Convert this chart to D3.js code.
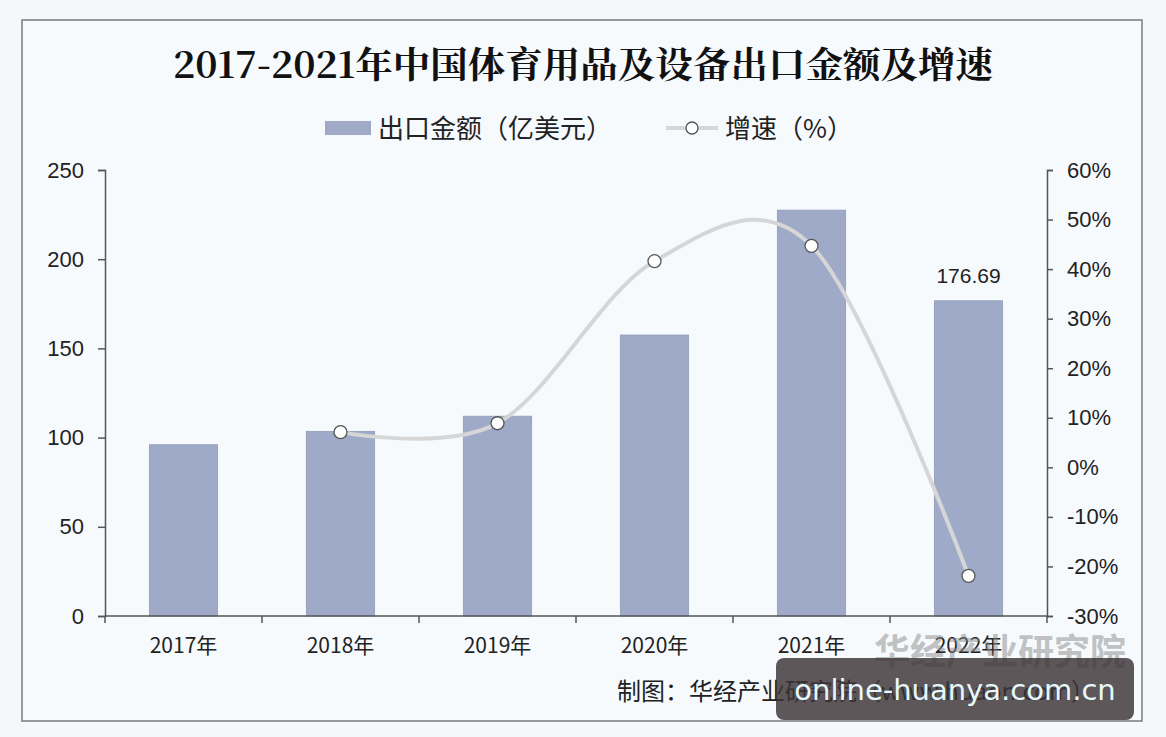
<!DOCTYPE html>
<html>
<head>
<meta charset="utf-8">
<script src="https://cdn.jsdelivr.net/npm/d3@7"></script>
<style>
  html, body { margin: 0; padding: 0; background: #f4f8fb; }
  svg { display: block; font-family: "Liberation Sans", "Noto Sans CJK SC", sans-serif; }
</style>
</head>
<body>
<svg id="chart" width="1166" height="737"></svg>
<script>
"use strict";

// data
const years = ["2017年", "2018年", "2019年", "2020年", "2021年", "2022年"];
const exportValue = [96, 103.5, 112, 157.5, 227.5, 176.69];
const growthYears = ["2018年", "2019年", "2020年", "2021年", "2022年"];
const growthRate = [7.1, 8.9, 41.6, 44.7, -21.9];
const leftTicks = [0, 50, 100, 150, 200, 250];
const rightTicks = [-30, -20, -10, 0, 10, 20, 30, 40, 50, 60];

const svg = d3.select("#chart");
const cjk = '"Noto Sans CJK SC", sans-serif';

// frame
svg.append("rect")
    .attr("x", 22).attr("y", 20)
    .attr("width", 1120).attr("height", 701)
    .attr("fill", "#f7fafd")
    .attr("stroke", "#7a7a7a")
    .attr("stroke-width", 1.5);

// title
svg.append("text")
    .attr("x", 583).attr("y", 78)
    .attr("text-anchor", "middle")
    .attr("textLength", 820)
    .attr("lengthAdjust", "spacingAndGlyphs")
    .style("font-family", '"Noto Serif CJK SC", "Noto Sans CJK SC", serif')
    .style("font-size", "36px")
    .style("font-weight", "bold")
    .attr("fill", "#111")
    .text("2017-2021年中国体育用品及设备出口金额及增速");

const margin = {left: 105, right: 1047, top: 170, bottom: 616};

let scaleX = d3.scaleBand()
    .domain(years)
    .range([margin.left, margin.right])
    .paddingInner(0.565)
    .paddingOuter(0.2825);
let scaleY = d3.scaleLinear().domain([0, 250]).range([margin.bottom, margin.top]);
let scaleY2 = d3.scaleLinear().domain([-30, 60]).range([margin.bottom, margin.top]);

// bars
svg.append("g")
    .selectAll("rect")
    .data(exportValue)
    .join("rect")
    .attr("x", (d, i) => scaleX(years[i]))
    .attr("y", d => scaleY(d))
    .attr("width", scaleX.bandwidth())
    .attr("height", d => scaleY(0) - scaleY(d))
    .attr("fill", "#9eaac8")
    .attr("stroke", "#8f9bba")
    .attr("stroke-width", 0.8);

// data label on last bar
svg.append("text")
    .attr("x", scaleX(years[5]) + scaleX.bandwidth() / 2)
    .attr("y", scaleY(exportValue[5]) - 18)
    .attr("text-anchor", "middle")
    .style("font-size", "21px")
    .attr("fill", "#222")
    .text("176.69");

// left axis
let leftAxis = svg.append("g")
    .attr("transform", `translate(${margin.left},0)`)
    .call(d3.axisLeft(scaleY).tickValues(leftTicks).tickSize(7).tickPadding(14));
// right axis
let rightAxis = svg.append("g")
    .attr("transform", `translate(${margin.right},0)`)
    .call(d3.axisRight(scaleY2).tickValues(rightTicks).tickSize(6).tickPadding(14)
        .tickFormat(d => d + "%"));
// bottom axis, ticks on band edges
let bandEdges = years.map(y => scaleX(y) - scaleX.step() * scaleX.paddingInner() / 2);
bandEdges[0] = margin.left;
bandEdges.push(margin.right);
let bottomAxis = svg.append("g")
    .attr("transform", `translate(0,${margin.bottom})`);
bottomAxis.append("line")
    .attr("x1", margin.left).attr("x2", margin.right)
    .attr("stroke", "#555").attr("stroke-width", 1.5);
bottomAxis.selectAll("line.tk")
    .data(bandEdges)
    .join("line")
    .attr("class", "tk")
    .attr("x1", d => d).attr("x2", d => d)
    .attr("y1", 0).attr("y2", 7)
    .attr("stroke", "#555").attr("stroke-width", 1.5);
bottomAxis.selectAll("text")
    .data(years)
    .join("text")
    .attr("x", d => scaleX(d) + scaleX.bandwidth() / 2)
    .attr("y", 37)
    .attr("text-anchor", "middle")
    .style("font-family", cjk)
    .style("font-size", "21px")
    .attr("fill", "#222")
    .text(d => d);

[leftAxis, rightAxis].forEach(function(ax) {
    ax.select(".domain").attr("stroke", "#555").attr("stroke-width", 1.5);
    ax.selectAll(".tick line").attr("stroke", "#555").attr("stroke-width", 1.5);
    ax.selectAll(".tick text")
        .style("font-size", "22px")
        .attr("fill", "#222");
});

// growth line (smoothed)
let lineGen = d3.line()
    .x((d, i) => scaleX(growthYears[i]) + scaleX.bandwidth() / 2)
    .y(d => scaleY2(d))
    .curve(d3.curveCardinal.tension(0));
svg.append("path")
    .datum(growthRate)
    .attr("d", lineGen)
    .attr("fill", "none")
    .attr("stroke", "#d6d6d6")
    .attr("stroke-width", 4);
svg.append("g")
    .selectAll("circle")
    .data(growthRate)
    .join("circle")
    .attr("cx", (d, i) => scaleX(growthYears[i]) + scaleX.bandwidth() / 2)
    .attr("cy", d => scaleY2(d))
    .attr("r", 6.5)
    .attr("fill", "#fff")
    .attr("stroke", "#555")
    .attr("stroke-width", 1.3);

// legend
let legend = svg.append("g").style("font-family", cjk).style("font-size", "26px");
legend.append("rect")
    .attr("x", 325).attr("y", 121).attr("width", 46).attr("height", 14)
    .attr("fill", "#9eaac8");
legend.append("text")
    .attr("x", 378).attr("y", 138).attr("fill", "#222")
    .text("出口金额（亿美元）");
legend.append("line")
    .attr("x1", 666).attr("x2", 718).attr("y1", 128).attr("y2", 128)
    .attr("stroke", "#d6d6d6").attr("stroke-width", 4);
legend.append("circle")
    .attr("cx", 692).attr("cy", 128).attr("r", 6)
    .attr("fill", "#fff").attr("stroke", "#555").attr("stroke-width", 1.3);
legend.append("text")
    .attr("x", 725).attr("y", 138).attr("fill", "#222")
    .text("增速（%）");

// source
svg.append("text")
    .attr("x", 617).attr("y", 700)
    .style("font-family", cjk)
    .style("font-size", "24px")
    .attr("fill", "#222")
    .text("制图：华经产业研究院（www.huaon.com）");

// faint watermark
svg.append("text")
    .attr("x", 1126).attr("y", 665)
    .attr("text-anchor", "end")
    .style("font-family", cjk)
    .style("font-size", "36px")
    .style("font-weight", "bold")
    .attr("fill", "#8a8a8a")
    .attr("opacity", 0.5)
    .text("华经产业研究院");

// site overlay
svg.append("rect")
    .attr("x", 776).attr("y", 658).attr("width", 358).attr("height", 62)
    .attr("rx", 8)
    .attr("fill", "#3a3336")
    .attr("opacity", 0.82);
svg.append("text")
    .attr("x", 955).attr("y", 700)
    .attr("text-anchor", "middle")
    .style("font-family", '"DejaVu Sans", sans-serif')
    .style("font-size", "29px")
    .attr("fill", "#e6f7fb")
    .text("online-huanya.com.cn");
</script>
</body>
</html>
